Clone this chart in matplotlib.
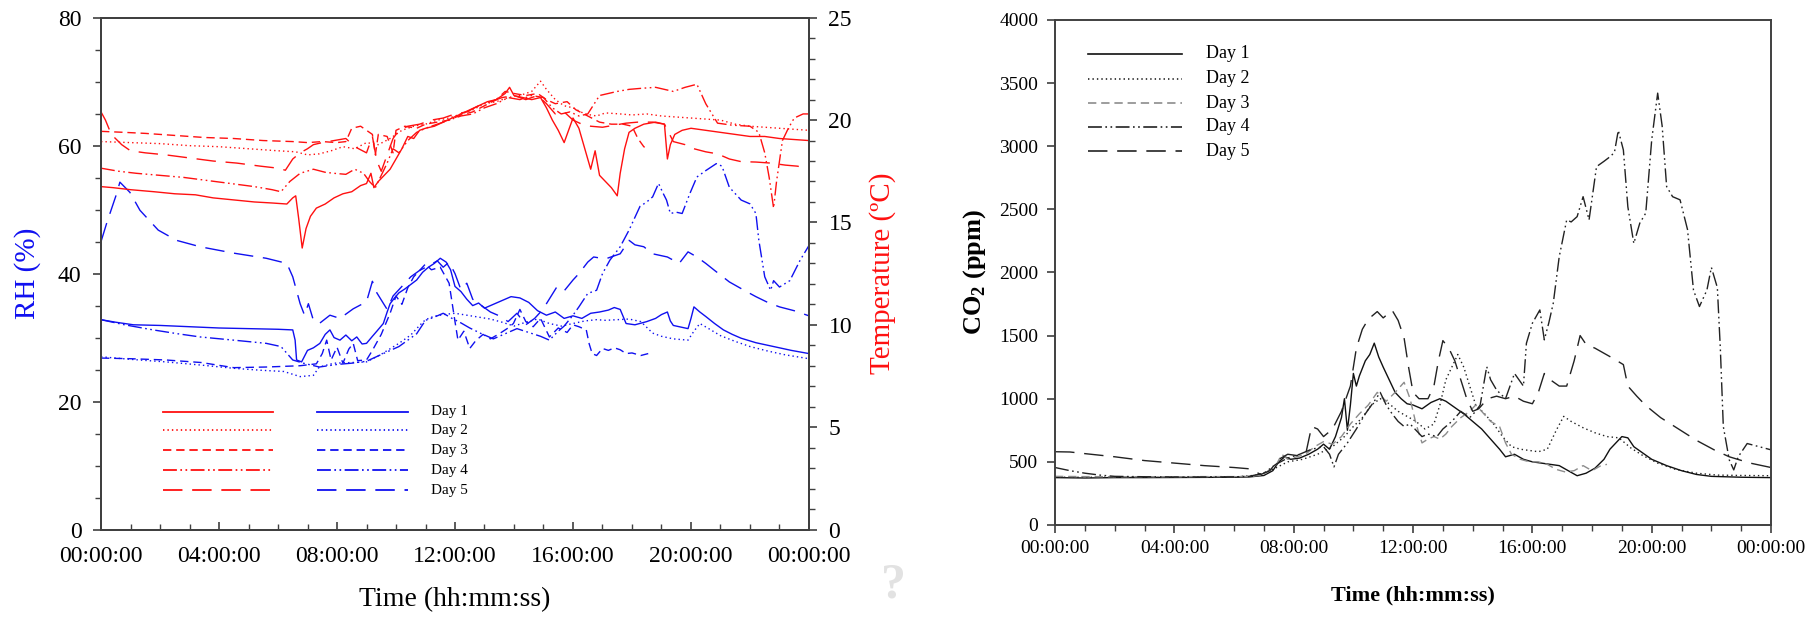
import matplotlib
matplotlib.use('Agg')
import matplotlib.pyplot as plt
from matplotlib.ticker import MultipleLocator

# ---- data (hours of day, value) ----
DAYS = ["Day 1", "Day 2", "Day 3", "Day 4", "Day 5"]
TIME_TICKS = [0, 4, 8, 12, 16, 20, 24]
TIME_LABELS = ["00:00:00", "04:00:00", "08:00:00", "12:00:00",
               "16:00:00", "20:00:00", "00:00:00"]

temp_day1 = [(0, 16.75), (0.4, 16.7), (1.0, 16.6), (1.8, 16.5), (2.5, 16.4), (3.2, 16.35), (3.8, 16.2),
             (4.5, 16.1), (5.2, 16.0), (5.8, 15.95), (6.3, 15.9), (6.5, 16.2), (6.6, 16.3), (6.7, 15.2),
             (6.82, 13.75), (6.95, 14.7), (7.1, 15.3), (7.3, 15.7), (7.6, 15.9), (7.9, 16.2), (8.2, 16.4),
             (8.5, 16.5), (8.8, 16.8), (9.0, 16.9), (9.15, 17.4), (9.25, 16.7), (9.4, 17.0), (9.6, 17.3),
             (9.8, 17.6), (10.0, 18.1), (10.2, 18.6), (10.4, 19.2), (10.6, 19.1), (10.8, 19.5), (11.0, 19.6),
             (11.3, 19.7), (11.6, 19.9), (11.9, 20.1), (12.2, 20.3), (12.5, 20.5), (12.8, 20.7), (13.1, 20.9),
             (13.4, 21.0), (13.7, 21.3), (13.85, 21.6), (14.0, 21.2), (14.3, 21.1), (14.6, 21.0), (14.9, 21.1),
             (15.1, 20.6), (15.3, 20.0), (15.5, 19.5), (15.7, 18.9), (15.85, 19.5), (16.0, 20.1), (16.2, 19.6),
             (16.4, 18.6), (16.6, 17.6), (16.75, 18.5), (16.9, 17.3), (17.1, 17.0), (17.3, 16.7), (17.5, 16.3),
             (17.6, 17.4), (17.75, 18.6), (17.9, 19.4), (18.1, 19.6), (18.4, 19.8), (18.8, 19.9), (19.1, 19.8),
             (19.2, 18.1), (19.3, 18.8), (19.45, 19.3), (19.7, 19.5), (20.0, 19.6), (20.5, 19.5), (21.0, 19.4),
             (21.5, 19.3), (22.0, 19.2), (22.5, 19.2), (23.0, 19.1), (23.5, 19.05), (24.0, 19.0)]
temp_day2 = [(0, 18.95), (1, 18.9), (2, 18.85), (3, 18.75), (4, 18.7), (5, 18.6), (6, 18.5), (6.6, 18.45),
             (7.0, 18.3), (7.4, 18.35), (7.8, 18.5), (8.2, 18.7), (8.6, 18.6), (9.0, 18.9), (9.4, 18.8),
             (9.8, 19.1), (10.2, 19.5), (10.6, 19.7), (11.0, 19.8), (11.4, 20.0), (11.8, 20.1), (12.2, 20.3),
             (12.6, 20.5), (13.0, 20.8), (13.4, 20.9), (13.8, 21.1), (14.2, 21.2), (14.6, 21.4), (14.9, 21.9),
             (15.1, 21.5), (15.4, 21.0), (15.7, 20.7), (16.0, 20.6), (16.4, 20.3), (16.8, 20.2), (17.1, 20.35),
             (17.6, 20.3), (18.0, 20.25), (18.5, 20.3), (19.0, 20.2), (19.5, 20.15), (20.0, 20.1), (20.5, 20.05),
             (21.0, 20.0), (21.5, 19.8), (22.0, 19.7), (22.5, 19.65), (23.0, 19.6), (23.5, 19.55), (24.0, 19.5)]
temp_day3 = [(0, 19.45), (0.8, 19.4), (1.5, 19.35), (2.5, 19.25), (3.5, 19.15), (4.5, 19.1), (5.5, 19.0),
             (6.5, 18.95), (7.0, 18.9), (7.5, 18.95), (8.0, 18.9), (8.3, 18.95), (8.5, 19.6), (8.8, 19.7),
             (9.0, 19.5), (9.2, 19.3), (9.3, 18.3), (9.4, 19.3), (9.7, 19.2), (9.9, 18.4), (10.0, 19.5),
             (10.3, 19.7), (10.7, 19.6), (11.0, 19.8), (11.4, 19.9), (11.8, 20.0), (12.2, 20.25), (12.6, 20.4),
             (13.0, 20.7), (13.4, 21.0), (13.7, 21.4), (14.0, 21.3), (14.4, 21.2), (14.8, 21.3), (15.1, 21.0),
             (15.4, 20.8), (15.8, 20.9), (16.1, 20.5), (16.5, 20.2), (16.9, 19.9), (17.3, 19.8), (17.7, 19.8),
             (18.0, 19.7), (18.2, 19.1), (18.4, 18.7), (18.5, 18.6)]
temp_day4 = [(0, 17.65), (0.6, 17.5), (1.2, 17.4), (2.0, 17.3), (2.8, 17.2), (3.6, 17.05), (4.4, 16.9),
             (5.2, 16.75), (5.8, 16.6), (6.1, 16.5), (6.4, 17.0), (6.75, 17.4), (7.2, 17.6), (7.6, 17.45),
             (7.9, 17.4), (8.3, 17.35), (8.6, 17.6), (8.9, 17.4), (9.1, 17.0), (9.3, 16.7), (9.5, 17.3),
             (9.7, 17.9), (9.9, 18.6), (10.1, 18.4), (10.4, 19.0), (10.7, 19.4), (11.0, 19.6), (11.4, 19.8),
             (11.8, 20.0), (12.2, 20.2), (12.6, 20.3), (13.0, 20.6), (13.4, 20.8), (13.8, 21.1), (14.2, 21.0),
             (14.6, 21.2), (15.0, 21.1), (15.3, 20.6), (15.6, 20.3), (15.9, 20.4), (16.2, 20.2), (16.5, 20.3),
             (16.9, 21.2), (17.2, 21.3), (17.5, 21.4), (17.9, 21.5), (18.3, 21.55), (18.8, 21.6), (19.1, 21.5),
             (19.4, 21.4), (19.8, 21.6), (20.2, 21.75), (20.5, 20.8), (20.9, 19.85), (21.4, 19.75), (22.0, 19.7),
             (22.3, 19.4), (22.5, 18.4), (22.65, 17.2), (22.8, 15.7), (22.9, 17.0), (23.1, 19.0), (23.3, 19.6),
             (23.5, 20.1), (23.8, 20.3), (24.0, 20.3)]
temp_day5 = [(0, 20.4), (0.15, 20.0), (0.35, 19.3), (0.7, 18.8), (1.0, 18.5), (1.5, 18.4), (2.2, 18.3),
             (3.0, 18.15), (3.8, 18.0), (4.6, 17.9), (5.4, 17.75), (6.0, 17.65), (6.25, 17.55), (6.5, 18.1),
             (6.75, 18.4), (7.0, 18.6), (7.2, 18.8), (7.5, 18.9), (7.9, 19.0), (8.3, 19.1), (8.6, 18.7),
             (9.0, 18.4), (9.2, 19.2), (9.35, 18.0), (9.5, 17.5), (9.7, 18.3), (9.9, 19.1), (10.1, 19.5),
             (10.4, 19.7), (10.8, 19.8), (11.2, 20.0), (11.6, 20.1), (12.0, 20.3), (12.4, 20.4), (12.8, 20.7),
             (13.2, 20.9), (13.6, 21.1), (14.0, 21.2), (14.4, 21.0), (14.8, 21.2), (15.1, 20.8), (15.4, 20.3),
             (15.7, 20.4), (16.0, 20.0), (16.3, 19.8), (16.6, 19.7), (17.0, 19.65), (17.4, 19.75), (17.8, 19.85),
             (18.2, 19.9), (18.7, 19.9), (19.1, 19.8), (19.4, 18.95), (19.8, 18.8), (20.1, 18.6), (20.5, 18.45),
             (20.9, 18.35), (21.3, 18.1), (21.7, 17.97), (22.2, 17.95), (22.7, 17.9), (23.2, 17.8), (23.6, 17.75),
             (24.0, 17.65)]

rh_day1 = [(0, 32.8), (0.5, 32.4), (1.1, 32.0), (2.0, 31.9), (3.0, 31.7), (4.0, 31.5), (5.0, 31.4), (6.0, 31.3),
           (6.5, 31.2), (6.58, 29.6), (6.63, 26.5), (6.8, 26.2), (7.0, 28.0), (7.2, 28.4), (7.42, 29.1), (7.6, 30.5),
           (7.76, 31.2), (7.9, 30.0), (8.1, 29.6), (8.3, 30.4), (8.5, 29.5), (8.67, 30.1), (8.85, 29.0), (9.0, 29.1),
           (9.2, 30.2), (9.35, 31.0), (9.57, 32.2), (9.7, 34.0), (9.8, 35.3), (9.95, 36.2), (10.1, 37.0),
           (10.3, 37.6), (10.5, 38.3), (10.7, 39.0), (10.9, 40.2), (11.1, 41.0), (11.3, 41.6), (11.5, 42.4),
           (11.7, 41.8), (11.85, 40.6), (12.0, 38.0), (12.2, 37.2), (12.4, 36.0), (12.6, 35.0), (12.8, 35.4),
           (13.0, 34.6), (13.3, 35.2), (13.6, 35.8), (13.9, 36.4), (14.2, 36.2), (14.5, 35.5), (14.8, 34.2),
           (15.1, 33.5), (15.4, 34.0), (15.7, 33.0), (16.0, 33.4), (16.3, 33.0), (16.6, 33.8), (16.9, 34.0),
           (17.2, 34.3), (17.4, 34.7), (17.6, 34.4), (17.8, 32.2), (18.1, 32.0), (18.5, 32.5), (18.8, 33.0),
           (19.0, 33.6), (19.2, 34.0), (19.3, 32.6), (19.4, 31.9), (19.7, 31.6), (19.9, 31.4), (20.0, 33.0),
           (20.1, 34.8), (20.3, 34.0), (20.5, 33.3), (20.8, 32.2), (21.1, 31.2), (21.4, 30.5), (21.7, 29.9),
           (22.2, 29.2), (22.8, 28.6), (23.4, 28.0), (24.0, 27.5)]
rh_day2 = [(0, 27.0), (1.0, 26.6), (2.2, 26.2), (3.4, 25.7), (4.5, 25.2), (5.4, 24.9), (6.2, 24.7), (6.75, 23.9),
           (7.2, 24.1), (7.4, 25.4), (7.9, 26.0), (8.5, 26.1), (9.0, 26.2), (9.5, 27.4), (10.1, 29.1), (10.5, 30.4),
           (10.8, 31.9), (11.0, 32.8), (11.27, 33.3), (11.6, 33.6), (12.0, 33.8), (12.4, 33.5), (12.8, 33.2),
           (13.2, 32.9), (13.6, 32.4), (14.0, 31.8), (14.4, 32.4), (14.8, 32.9), (15.2, 32.2), (15.6, 31.8),
           (16.0, 32.2), (16.4, 32.6), (16.8, 32.8), (17.1, 32.7), (17.5, 32.8), (17.9, 32.9), (18.3, 32.5),
           (18.7, 30.7), (19.0, 30.2), (19.4, 29.8), (19.9, 29.6), (20.1, 31.0), (20.3, 32.2), (20.6, 31.4),
           (21.0, 30.3), (21.5, 29.4), (22.0, 28.6), (22.6, 27.9), (23.2, 27.3), (24.0, 26.7)]
rh_day3 = [(0, 26.8), (1.0, 26.7), (2.2, 26.5), (3.4, 26.1), (4.5, 25.3), (5.6, 25.4), (6.75, 25.6), (7.3, 25.9),
           (7.5, 27.5), (7.65, 29.6), (7.8, 26.5), (8.0, 28.5), (8.2, 26.0), (8.4, 28.2), (8.55, 29.1), (8.7, 26.4),
           (9.0, 26.5), (9.2, 28.0), (9.5, 30.5), (9.8, 33.8), (10.0, 36.5), (10.2, 35.2), (10.4, 37.8),
           (10.6, 39.5), (10.8, 40.5), (11.0, 41.5), (11.2, 40.6), (11.5, 41.0), (11.8, 38.5), (12.0, 32.5),
           (12.1, 29.6), (12.3, 31.0), (12.5, 28.3), (12.7, 29.5), (12.95, 30.5), (13.2, 29.8), (13.5, 30.6),
           (13.8, 31.5), (13.98, 32.2), (14.2, 34.4), (14.4, 32.5), (14.65, 31.7), (14.9, 33.0), (15.2, 30.1),
           (15.5, 31.5), (15.8, 30.8), (16.0, 32.0), (16.2, 31.7), (16.45, 31.2), (16.55, 29.0), (16.65, 27.5),
           (16.8, 27.2), (17.0, 28.3), (17.2, 28.0), (17.4, 28.4), (17.6, 28.1), (17.8, 27.5), (18.0, 27.6),
           (18.3, 27.2), (18.55, 27.5)]
rh_day4 = [(0, 32.8), (0.8, 32.0), (1.77, 31.2), (2.6, 30.6), (3.36, 30.1), (4.5, 29.6), (5.6, 29.1), (6.1, 28.6),
           (6.5, 26.5), (6.86, 26.0), (7.4, 25.4), (8.0, 25.8), (8.5, 26.0), (9.0, 26.3), (9.57, 27.5), (10.1, 28.6),
           (10.7, 30.6), (11.0, 32.7), (11.3, 33.2), (11.6, 33.8), (11.9, 33.0), (12.2, 32.3), (12.5, 31.5),
           (12.9, 30.6), (13.3, 29.8), (13.7, 30.6), (14.1, 31.4), (14.5, 30.8), (14.9, 30.2), (15.2, 29.6),
           (15.5, 31.0), (15.7, 31.8), (16.0, 33.5), (16.2, 34.8), (16.5, 36.9), (16.8, 37.4), (17.0, 40.0),
           (17.25, 42.1), (17.6, 44.2), (17.9, 46.8), (18.27, 50.5), (18.5, 51.2), (18.7, 52.0), (18.9, 54.1),
           (19.05, 52.6), (19.17, 51.5), (19.3, 49.4), (19.5, 49.6), (19.7, 49.4), (19.96, 52.5), (20.2, 55.1),
           (20.5, 56.1), (20.86, 57.2), (21.05, 56.8), (21.3, 53.5), (21.7, 51.5), (22.0, 50.9), (22.2, 49.4),
           (22.3, 45.2), (22.5, 39.5), (22.7, 37.4), (22.8, 38.9), (23.0, 37.9), (23.35, 38.9), (23.7, 42.1),
           (24.0, 44.4)]
rh_day5 = [(0, 45.0), (0.2, 48.0), (0.53, 52.5), (0.64, 54.3), (0.98, 52.7), (1.32, 49.9), (1.94, 46.8),
           (2.56, 45.2), (3.36, 44.2), (4.5, 43.2), (5.6, 42.4), (6.3, 41.6), (6.5, 39.5), (6.75, 35.3), (6.9, 33.5),
           (7.03, 35.3), (7.2, 32.7), (7.4, 32.2), (7.76, 33.5), (8.1, 33.0), (8.55, 34.5), (9.0, 35.6), (9.2, 38.8),
           (9.35, 37.0), (9.7, 34.4), (9.9, 36.5), (10.2, 38.0), (10.5, 39.5), (10.8, 40.5), (11.1, 41.2),
           (11.4, 42.0), (11.6, 41.0), (11.8, 41.8), (12.0, 40.0), (12.2, 37.5), (12.4, 38.5), (12.6, 36.0),
           (12.9, 35.0), (13.2, 34.0), (13.5, 33.4), (13.8, 32.5), (14.1, 33.8), (14.4, 32.0), (14.7, 33.0),
           (15.0, 34.5), (15.1, 35.3), (15.45, 37.9), (15.7, 37.3), (16.0, 39.0), (16.2, 40.0), (16.5, 41.8),
           (16.7, 42.6), (17.1, 42.3), (17.6, 43.1), (17.9, 45.2), (18.1, 44.5), (18.4, 44.2), (18.7, 43.1),
           (19.2, 42.6), (19.6, 41.6), (19.9, 43.4), (20.2, 42.6), (20.5, 41.6), (20.8, 40.5), (21.3, 38.7),
           (21.8, 37.4), (22.2, 36.4), (22.6, 35.5), (23.0, 34.8), (23.5, 34.2), (24.0, 33.4)]

co2_day1 = [(0, 375), (1, 372), (2, 375), (3, 375), (4, 376), (5, 377), (6, 378), (6.5, 380), (7.0, 392),
            (7.3, 430), (7.5, 500), (7.7, 540), (7.9, 520), (8.2, 530), (8.5, 560), (8.8, 600), (9.0, 640),
            (9.2, 600), (9.4, 700), (9.6, 850), (9.7, 1000), (9.8, 750), (9.9, 950), (10.0, 1200), (10.1, 1100),
            (10.2, 1180), (10.4, 1300), (10.55, 1350), (10.7, 1440), (10.85, 1330), (11.0, 1250), (11.2, 1150),
            (11.4, 1050), (11.6, 1000), (11.8, 960), (12.0, 950), (12.3, 920), (12.6, 970), (12.9, 1000),
            (13.1, 980), (13.4, 930), (13.7, 880), (14.0, 820), (14.3, 760), (14.6, 680), (14.9, 600),
            (15.1, 540), (15.4, 560), (15.7, 520), (16.0, 500), (16.3, 490), (16.6, 480), (16.9, 470),
            (17.2, 430), (17.5, 390), (17.8, 410), (18.1, 450), (18.4, 520), (18.6, 600), (18.8, 650),
            (19.0, 700), (19.2, 690), (19.4, 620), (19.7, 570), (20.0, 520), (20.5, 470), (21.0, 430),
            (21.5, 400), (22.0, 385), (23.0, 378), (24.0, 375)]
co2_day2 = [(0, 378), (2, 378), (4, 378), (6, 380), (6.8, 395), (7.3, 440), (7.8, 500), (8.3, 520), (8.8, 560),
            (9.3, 620), (9.7, 700), (10.0, 780), (10.3, 850), (10.6, 950), (10.9, 1000), (11.2, 960), (11.5, 900),
            (11.8, 860), (12.1, 820), (12.4, 760), (12.7, 800), (12.9, 950), (13.1, 1150), (13.3, 1250),
            (13.5, 1350), (13.7, 1250), (13.9, 1100), (14.1, 950), (14.4, 880), (14.7, 800), (15.0, 700),
            (15.3, 620), (15.6, 600), (15.9, 590), (16.2, 580), (16.5, 600), (16.8, 750), (17.05, 860),
            (17.3, 820), (17.7, 770), (18.1, 730), (18.5, 700), (18.9, 690), (19.3, 610), (19.7, 550),
            (20.2, 490), (20.8, 440), (21.5, 410), (22.2, 395), (23.0, 392), (24.0, 390)]
co2_day3 = [(0, 385), (1, 383), (2, 382), (3, 382), (4, 382), (5, 383), (6, 383), (6.6, 385), (7.0, 400),
            (7.4, 470), (7.6, 560), (7.8, 520), (8.1, 540), (8.4, 560), (8.7, 620), (9.0, 660), (9.3, 640),
            (9.6, 700), (9.9, 800), (10.2, 880), (10.5, 950), (10.8, 1050), (11.1, 980), (11.4, 1050),
            (11.7, 1130), (11.9, 1000), (12.1, 800), (12.3, 650), (12.5, 680), (12.7, 700), (12.9, 680),
            (13.1, 720), (13.3, 780), (13.6, 850), (13.9, 900), (14.1, 950), (14.3, 900), (14.6, 820),
            (14.9, 780), (15.1, 650), (15.3, 560), (15.6, 520), (15.9, 500), (16.2, 500), (16.5, 480),
            (16.8, 440), (17.1, 420), (17.4, 430), (17.7, 470), (18.0, 430), (18.3, 470), (18.5, 480)]
co2_day4 = [(0, 455), (0.5, 430), (1.0, 410), (1.5, 395), (2.0, 385), (3.0, 382), (4.0, 380), (5.0, 380),
            (6.0, 381), (6.5, 385), (7.0, 410), (7.4, 480), (7.8, 530), (8.2, 560), (8.6, 600), (9.0, 620),
            (9.2, 560), (9.35, 460), (9.5, 560), (9.8, 650), (10.1, 760), (10.4, 880), (10.7, 980), (10.9, 1050),
            (11.1, 950), (11.3, 880), (11.5, 820), (11.7, 780), (11.9, 800), (12.1, 750), (12.3, 700),
            (12.5, 720), (12.8, 700), (13.0, 760), (13.3, 820), (13.6, 900), (13.9, 850), (14.1, 900),
            (14.25, 950), (14.47, 1254), (14.6, 1150), (14.8, 1069), (15.1, 1000), (15.4, 1200), (15.7, 1100),
            (15.8, 1439), (16.0, 1598), (16.25, 1703), (16.4, 1466), (16.55, 1600), (16.7, 1756), (16.9, 2125),
            (17.15, 2416), (17.3, 2400), (17.5, 2442), (17.7, 2600), (17.9, 2416), (18.15, 2838), (18.4, 2880),
            (18.6, 2916), (18.75, 2950), (18.88, 3125), (19.05, 2970), (19.2, 2520), (19.4, 2230), (19.6, 2390),
            (19.8, 2470), (20.0, 3050), (20.2, 3420), (20.35, 3160), (20.5, 2680), (20.7, 2600), (20.95, 2575),
            (21.2, 2340), (21.4, 1860), (21.6, 1730), (21.85, 1860), (22.0, 2040), (22.2, 1880), (22.3, 1400),
            (22.4, 780), (22.6, 515), (22.75, 436), (22.9, 540), (23.2, 645), (23.6, 620), (24.0, 595)]
co2_day5 = [(0, 580), (0.5, 578), (1.0, 565), (2.0, 540), (3.0, 510), (4.0, 490), (5.0, 470), (6.0, 455),
            (6.5, 445), (6.9, 400), (7.2, 430), (7.5, 520), (7.8, 560), (8.1, 550), (8.4, 560), (8.6, 780),
            (8.8, 760), (9.0, 700), (9.3, 760), (9.6, 900), (9.9, 1100), (10.1, 1400), (10.3, 1550), (10.5, 1630),
            (10.8, 1690), (11.0, 1640), (11.3, 1700), (11.5, 1620), (11.7, 1480), (11.85, 1250), (12.0, 1050),
            (12.2, 1000), (12.5, 1000), (12.7, 1100), (12.85, 1300), (13.0, 1460), (13.2, 1400), (13.4, 1300),
            (13.6, 1150), (13.8, 1000), (14.0, 900), (14.2, 920), (14.5, 1000), (14.8, 1020), (15.1, 1000),
            (15.4, 1020), (15.7, 980), (16.0, 960), (16.2, 1050), (16.4, 1200), (16.6, 1150), (16.9, 1100),
            (17.15, 1100), (17.4, 1300), (17.6, 1500), (17.8, 1430), (18.1, 1400), (18.4, 1360), (18.7, 1320),
            (19.05, 1270), (19.2, 1100), (19.5, 1020), (19.8, 946), (20.3, 850), (20.9, 760), (21.5, 670),
            (22.1, 594), (22.6, 540), (23.3, 490), (24.0, 455)]

temp_series = [temp_day1, temp_day2, temp_day3, temp_day4, temp_day5]
rh_series = [rh_day1, rh_day2, rh_day3, rh_day4, rh_day5]
co2_series = [co2_day1, co2_day2, co2_day3, co2_day4, co2_day5]

# ---- styles ----
RED = '#FF1010'
BLUE = '#1010F0'
AXIS = '#404040'
STYLES = ['-', (0, (1, 2.2)), (0, (6, 3.5)), (0, (10, 2.5, 1.2, 2.5, 1.2, 2.5)), (0, (14, 7))]
CO2_COLORS = ['#111111', '#222222', '#8c8c8c', '#222222', '#222222']

plt.rcParams.update({
    'font.family': ['Liberation Serif', 'DejaVu Serif'],
    'mathtext.fontset': 'custom',
    'mathtext.rm': 'Liberation Serif',
    'mathtext.bf': 'Liberation Serif:bold',
    'lines.scale_dashes': False,
    'axes.linewidth': 1.4,
    'axes.edgecolor': AXIS,
})


def xy(series):
    return [p[0] for p in series], [p[1] for p in series]


def style_time_axis(ax, fontsize, direction, pad):
    ax.set_xlim(0, 24)
    ax.set_xticks(TIME_TICKS)
    ax.set_xticklabels(TIME_LABELS)
    ax.xaxis.set_minor_locator(MultipleLocator(1))
    ax.tick_params(axis='x', which='both', direction=direction, labelsize=fontsize,
                   pad=pad, color=AXIS, top=False)
    ax.tick_params(axis='x', which='major', length=6, width=1.2)
    ax.tick_params(axis='x', which='minor', length=4, width=1.0)


fig = plt.figure(figsize=(18.2, 6.22), dpi=100)

# ================= left: RH + temperature =================
ax1 = fig.add_axes([0.0555, 0.1487, 0.389, 0.8228])
ax2 = ax1.twinx()

for s, ls in zip(rh_series, STYLES):
    x, y = xy(s)
    ax1.plot(x, y, color=BLUE, lw=1.0, linestyle=ls)
for s, ls in zip(temp_series, STYLES):
    x, y = xy(s)
    ax2.plot(x, y, color=RED, lw=1.0, linestyle=ls)

ax1.set_ylim(0, 80)
ax1.yaxis.set_major_locator(MultipleLocator(20))
ax1.yaxis.set_minor_locator(MultipleLocator(5))
ax1.tick_params(axis='y', which='both', direction='out', labelsize=17, pad=8, color=AXIS)
ax1.tick_params(axis='y', which='major', length=6, width=1.2)
ax1.tick_params(axis='y', which='minor', length=4, width=1.0)
ax2.set_ylim(0, 25)
ax2.yaxis.set_major_locator(MultipleLocator(5))
ax2.yaxis.set_minor_locator(MultipleLocator(1))
ax2.tick_params(axis='y', which='both', direction='out', labelsize=17, pad=8, color=AXIS)
ax2.tick_params(axis='y', which='major', length=6, width=1.2)
ax2.tick_params(axis='y', which='minor', length=4, width=1.0)
style_time_axis(ax1, 17, 'in', 12)

ax1.set_ylabel('RH (%)', color=BLUE, fontsize=21, labelpad=12)
ax2.set_ylabel('Temperature (\u00baC)', color=RED, fontsize=21, labelpad=12)
ax1.set_xlabel('Time (hh:mm:ss)', fontsize=20, labelpad=14)

# legend drawn inside the axes
leg_rows = [0.230, 0.194, 0.155, 0.116, 0.077]
for i, (day, ls) in enumerate(zip(DAYS, STYLES)):
    yy = leg_rows[i]
    ax2.plot([0.088, 0.243], [yy, yy], transform=ax2.transAxes, color=RED, lw=1.3, linestyle=ls)
    ax2.plot([0.305, 0.434], [yy, yy], transform=ax2.transAxes, color=BLUE, lw=1.3, linestyle=ls)
    ax2.text(0.466, yy, day, transform=ax2.transAxes, fontsize=11, va='center', ha='left')

# ================= right: CO2 =================
ax3 = fig.add_axes([0.5797, 0.156, 0.3934, 0.812])
for s, ls, c in zip(co2_series, STYLES, CO2_COLORS):
    x, y = xy(s)
    ax3.plot(x, y, color=c, lw=1.0, linestyle=ls)

ax3.set_ylim(0, 4000)
ax3.yaxis.set_major_locator(MultipleLocator(500))
ax3.tick_params(axis='y', which='both', direction='out', labelsize=14, pad=6, color=AXIS,
                length=6, width=1.2)
style_time_axis(ax3, 14, 'out', 5)
ax3.set_ylabel(r'CO$_{\mathbf{2}}$ (ppm)', fontsize=19, fontweight='bold', labelpad=8)
ax3.set_xlabel('Time (hh:mm:ss)', fontsize=16, fontweight='bold', labelpad=20)

leg_rows = [0.933, 0.883, 0.835, 0.788, 0.740]
for i, (day, ls, c) in enumerate(zip(DAYS, STYLES, CO2_COLORS)):
    yy = leg_rows[i]
    ax3.plot([0.046, 0.177], [yy, yy], transform=ax3.transAxes, color=c, lw=1.2, linestyle=ls)
    ax3.text(0.211, yy, day, transform=ax3.transAxes, fontsize=13, va='center', ha='left')

# faint grey mark that sits between the two panels in the source image
fig.text(0.491, 0.058, '?', fontsize=36, color='#e2e2e2', ha='center', va='center',
         fontweight='bold')

fig.savefig('out.png', dpi=100)
